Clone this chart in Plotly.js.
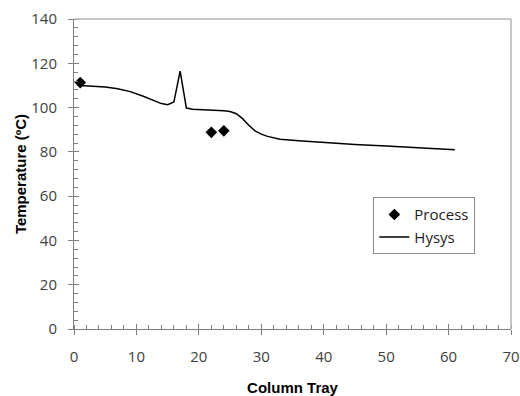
<!DOCTYPE html>
<html>
<head>
<meta charset="utf-8">
<script src="https://cdn.plot.ly/plotly-3.0.1.min.js"></script>
<style>html,body{margin:0;padding:0;background:#fff;}#chart{width:520px;height:396px;}</style>
</head>
<body>
<div id="chart"></div>
<script>
var processTray = [1, 22, 24];
var processTemp = [111.3, 88.8, 89.5];

var hysysTray = [1, 3, 5, 7, 9, 11, 13, 14, 15, 16, 17, 18, 19, 21, 23, 24, 25, 26, 27, 28, 29, 30, 31, 33, 36, 40, 45, 50, 55, 61];
var hysysTemp = [110, 109.8, 109.3, 108.5, 107.2, 105.2, 102.8, 101.8, 101.3, 102.5, 116.5, 99.8, 99.2, 99, 98.8, 98.6, 98.2, 97.2, 95, 92, 89.5, 88, 87, 85.7, 85, 84.2, 83.3, 82.6, 81.8, 80.9];

var xTickVals = [0, 10, 20, 30, 40, 50, 60, 70];
var yTickVals = [0, 20, 40, 60, 80, 100, 120, 140];

var tickFont = {family: 'Open Sans, Liberation Sans, sans-serif', size: 15, color: '#404040'};
var titleFont = {family: 'Liberation Sans, Arial, sans-serif', size: 15, color: '#000', weight: 'bold'};
var axisColor = '#7f7f7f';

var data = [
  {x: hysysTray, y: hysysTemp, mode: 'lines', name: 'Hysys', line: {color: '#000', width: 1.5}},
  {x: processTray, y: processTemp, mode: 'markers', name: 'Process', marker: {symbol: 'diamond', size: 9, color: '#000'}}
];

var layout = {
  width: 520, height: 396,
  margin: {l: 74, r: 9, t: 19, b: 67},
  paper_bgcolor: '#fff', plot_bgcolor: '#fff',
  showlegend: true,
  legend: {
    x: 0.685, y: 0.425, xanchor: 'left', yanchor: 'top',
    bordercolor: '#8c8c8c', borderwidth: 1, bgcolor: '#fff',
    traceorder: 'reversed', tracegroupgap: 0,
    font: {family: 'Open Sans, Liberation Sans, sans-serif', size: 15, color: '#222'},
    itemwidth: 30
  },
  xaxis: {
    range: [0, 70], tickvals: xTickVals, ticktext: xTickVals.map(String),
    showgrid: false, zeroline: false, showline: true, linecolor: axisColor, linewidth: 1,
    ticks: 'outside', ticklen: 5, tickcolor: axisColor, ticklabelstandoff: 9,
    minor: {dtick: 2, ticks: 'inside', ticklen: 4, tickcolor: axisColor, showgrid: false},
    tickfont: tickFont, mirror: false,
    title: {text: 'Column Tray', font: titleFont, standoff: 18}
  },
  yaxis: {
    range: [0, 140], tickvals: yTickVals, ticktext: yTickVals.map(String),
    showgrid: false, zeroline: false, showline: true, linecolor: axisColor, linewidth: 1,
    ticks: 'outside', ticklen: 5, tickcolor: axisColor, ticklabelstandoff: 8,
    minor: {dtick: 4, ticks: 'inside', ticklen: 4, tickcolor: axisColor, showgrid: false},
    tickfont: tickFont,
    title: {text: 'Temperature (ºC)', font: titleFont, standoff: 1}
  },
  xaxis2: {range: [0, 70], overlaying: 'x', tickvals: xTickVals, showticklabels: false, ticks: 'inside', ticklen: 5, tickcolor: axisColor, showgrid: false, zeroline: false, showline: false},
  yaxis2: {range: [0, 140], overlaying: 'y', tickvals: yTickVals, showticklabels: false, ticks: 'inside', ticklen: 5, tickcolor: axisColor, showgrid: false, zeroline: false, showline: false},
  shapes: [
    {type: 'line', xref: 'paper', yref: 'paper', x0: 0, x1: 1, y0: 1, y1: 1, line: {color: '#b4b4b4', width: 1.5}},
    {type: 'line', xref: 'paper', yref: 'paper', x0: 1, x1: 1, y0: 0, y1: 1, line: {color: '#b4b4b4', width: 1.5}}
  ]
};

data.push({x: [0], y: [0], xaxis: 'x2', yaxis: 'y2', mode: 'markers', marker: {opacity: 0}, showlegend: false, hoverinfo: 'skip'});

Plotly.newPlot('chart', data, layout, {displayModeBar: false, staticPlot: true});
</script>
</body>
</html>
